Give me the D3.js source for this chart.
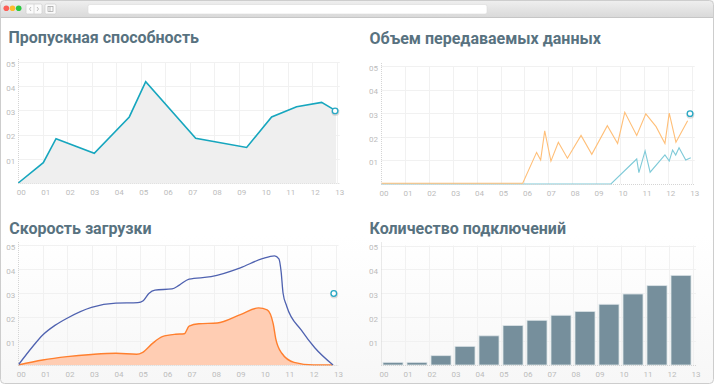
<!DOCTYPE html>
<html lang="ru">
<head>
<meta charset="UTF-8">
<title>Dashboard</title>
<style>
  html, body { margin: 0; padding: 0; background: #fff; }
  svg { display: block; font-family: Roboto, "Noto Sans", sans-serif; }
  .title { font-size: 16px; font-weight: 700; fill: #587280; }
  .tick-label { font-size: 8px; fill: #bcbcbc; }
</style>
</head>
<body>
<svg id="chart" width="714" height="385"></svg>
<script src="https://d3js.org/d3.v7.min.js"></script>
<script>
// ---- data ----
const hourLabels = ["00","01","02","03","04","05","06","07","08","09","10","11","12","13"];
const valueLabels = ["01","02","03","04","05"];

// Пропускная способность
const throughputX = [0, 1.02, 1.54, 3.1, 4.53, 5.2, 7.24, 9.32, 10.34, 11.36, 12.38, 12.97];
const throughputY = [0, 0.84, 1.83, 1.23, 2.73, 4.19, 1.85, 1.47, 2.73, 3.15, 3.33, 2.98];

// Объем передаваемых данных
const volumeOutX = [0, 5.93, 6.51, 6.68, 6.85, 7.11, 7.42, 7.8, 8.37, 8.82, 9.47, 9.9, 10.2, 10.7, 11.08, 11.51, 11.88, 12.06, 12.34, 12.83];
const volumeOutY = [0.03, 0.03, 1.34, 1.02, 2.25, 0.97, 1.77, 1.09, 2.06, 1.26, 2.47, 1.72, 3.04, 2.06, 2.97, 2.43, 1.72, 3.0, 1.77, 2.68];
const volumeInX = [0, 9.62, 10.7, 10.79, 11.05, 11.26, 11.88, 12.06, 12.2, 12.33, 12.47, 12.75, 12.96];
const volumeInY = [0, 0, 1.06, 0.48, 1.4, 0.5, 1.23, 0.97, 1.44, 1.23, 1.54, 1.02, 1.11];

// Скорость загрузки
const speedMaxX = [0, 0.6, 1.0, 1.5, 2.0, 3.0, 4.0, 4.9, 5.12, 5.35, 5.6, 6.3, 6.6, 7.0, 7.9, 9.1, 10.0, 10.5, 10.68, 10.77, 10.85, 11.0, 11.6, 12.15, 12.9];
const speedMaxY = [0, 0.78, 1.25, 1.65, 1.95, 2.4, 2.58, 2.6, 2.68, 2.98, 3.12, 3.17, 3.33, 3.58, 3.68, 4.05, 4.43, 4.55, 4.42, 3.9, 3.0, 2.45, 1.45, 0.72, 0];
const speedAvgX = [0, 1.0, 2.0, 3.0, 4.0, 4.85, 5.1, 5.5, 5.9, 6.45, 6.8, 7.0, 7.4, 8.15, 9.1, 9.85, 10.2, 10.45, 10.55, 10.8, 11.3, 12.1, 12.9];
const speedAvgY = [0, 0.21, 0.35, 0.44, 0.49, 0.45, 0.53, 0.9, 1.18, 1.28, 1.3, 1.62, 1.72, 1.75, 2.1, 2.38, 2.3, 1.7, 1.1, 0.49, 0.11, 0, 0];

// Количество подключений
const connections = [0.11, 0.11, 0.39, 0.78, 1.22, 1.65, 1.87, 2.08, 2.24, 2.54, 2.97, 3.32, 3.75];

// current marker (x, value)
const markerPoint = [12.93, 2.98];

const zip = (xs, ys) => xs.map((x, i) => [x, ys[i]]);

// ---- page ----
const svg = d3.select("#chart");
const defs = svg.append("defs");

const chromeGrad = defs.append("linearGradient").attr("id", "chromeGrad")
  .attr("x1", 0).attr("y1", 0).attr("x2", 0).attr("y2", 1);
chromeGrad.append("stop").attr("offset", "0%").attr("stop-color", "#efefef");
chromeGrad.append("stop").attr("offset", "100%").attr("stop-color", "#d9d9d9");

const lowerGrad = defs.append("linearGradient").attr("id", "lowerGrad")
  .attr("x1", 0).attr("y1", 0).attr("x2", 0).attr("y2", 1);
lowerGrad.append("stop").attr("offset", "0%").attr("stop-color", "#ffffff");
lowerGrad.append("stop").attr("offset", "100%").attr("stop-color", "#f7f7f7");

// lower row background
svg.append("rect").attr("x", 1).attr("y", 236).attr("width", 712).attr("height", 147)
  .attr("fill", "url(#lowerGrad)");

// window frame + toolbar
svg.append("rect").attr("x", 0.5).attr("y", 0.5).attr("width", 713).attr("height", 17)
  .attr("fill", "url(#chromeGrad)");
svg.append("line").attr("x1", 0).attr("x2", 714).attr("y1", 17.5).attr("y2", 17.5)
  .attr("stroke", "#c6c6c6");
svg.append("rect").attr("x", 0.5).attr("y", 0.5).attr("width", 713).attr("height", 383)
  .attr("rx", 4).attr("fill", "none").attr("stroke", "#cdcdcd");

const lights = [["#fc5f57", 6.3], ["#fdbb2e", 12.5], ["#2ac840", 18.7]];
svg.selectAll(".light").data(lights).enter().append("circle")
  .attr("cx", d => d[1]).attr("cy", 8.3).attr("r", 2.8).attr("fill", d => d[0]);

const btn = svg.append("g").attr("fill", "#fbfbfb").attr("stroke", "#cfcfcf").attr("stroke-width", 0.7);
btn.append("rect").attr("x", 26).attr("y", 4).attr("width", 16).attr("height", 10).attr("rx", 1.5);
btn.append("rect").attr("x", 45).attr("y", 4).attr("width", 11).attr("height", 10).attr("rx", 1.5);
btn.append("line").attr("x1", 34).attr("x2", 34).attr("y1", 4).attr("y2", 14);
const glyph = svg.append("g").attr("fill", "none").attr("stroke", "#a0a0a0").attr("stroke-width", 0.7);
glyph.append("path").attr("d", "M31,7 L29.5,9 L31,11");
glyph.append("path").attr("d", "M37,7 L38.5,9 L37,11");
glyph.append("rect").attr("x", 48).attr("y", 6.5).attr("width", 5).attr("height", 5);
glyph.append("line").attr("x1", 50).attr("x2", 50).attr("y1", 6.5).attr("y2", 11.5);
svg.append("rect").attr("x", 88).attr("y", 4.5).attr("width", 399).attr("height", 9.5).attr("rx", 2)
  .attr("fill", "#ffffff").attr("stroke", "#dadada").attr("stroke-width", 0.6);

// ---- panels ----
function panel(cfg) {
  const x = d3.scaleLinear().domain([0, 13]).range([cfg.left, cfg.right]);
  const y = d3.scaleLinear().domain([0, 5]).range([cfg.bottom, cfg.top]);
  const g = svg.append("g");
  const gridEnd = cfg.right + 3;

  svg.append("text").attr("class", "title").attr("x", cfg.titleX).attr("y", cfg.titleY).text(cfg.title);

  // grid
  g.selectAll(".hgrid").data(d3.range(1, 6)).enter().append("line")
    .attr("x1", cfg.left).attr("x2", gridEnd)
    .attr("y1", d => Math.round(y(d)) + 0.5).attr("y2", d => Math.round(y(d)) + 0.5)
    .attr("stroke", "#f1f1f1");
  g.selectAll(".vgrid").data(d3.range(1, 14)).enter().append("line")
    .attr("x1", d => Math.round(x(d)) + 0.5).attr("x2", d => Math.round(x(d)) + 0.5)
    .attr("y1", y(5)).attr("y2", cfg.bottom)
    .attr("stroke", "#f1f1f1");

  // tick labels
  g.selectAll(".xl").data(hourLabels).enter().append("text")
    .attr("class", "tick-label").attr("text-anchor", "middle")
    .attr("x", (d, i) => x(i) + 3).attr("y", cfg.bottom + 9).attr("dy", "0.35em").text(d => d);
  g.selectAll(".yl").data(valueLabels).enter().append("text")
    .attr("class", "tick-label").attr("text-anchor", "end")
    .attr("x", cfg.left - 3).attr("y", (d, i) => y(i + 1) + 2).attr("dy", "0.35em").text(d => d);

  const marks = svg.append("g");

  // dotted axes on top
  const ax = svg.append("g").attr("stroke", "#d4d4d4").attr("stroke-dasharray", "1,1");
  ax.append("line").attr("x1", Math.round(cfg.left) + 0.5).attr("x2", Math.round(cfg.left) + 0.5)
    .attr("y1", y(5) - 3).attr("y2", cfg.bottom);
  ax.append("line").attr("x1", cfg.left).attr("x2", gridEnd)
    .attr("y1", Math.round(cfg.bottom) + 0.5).attr("y2", Math.round(cfg.bottom) + 0.5);

  return { x, y, marks };
}

function marker(p) {
  const [cx, cy] = [p.x(markerPoint[0]), p.y(markerPoint[1])];
  p.marks.append("circle").attr("cx", cx + 0.3).attr("cy", cy + 1).attr("r", 4)
    .attr("fill", "#b5b5b5").attr("opacity", 0.45);
  p.marks.append("circle").attr("cx", cx).attr("cy", cy).attr("r", 2.8)
    .attr("fill", "#fff").attr("stroke", "#29a8c4").attr("stroke-width", 1.3);
}

// 1. Пропускная способность
const p1 = panel({ title: "Пропускная способность", titleX: 8.5, titleY: 42.5,
  left: 18.3, right: 336.8, top: 62, bottom: 183 });
const tp = zip(throughputX, throughputY);
p1.marks.append("path").datum(tp)
  .attr("d", d3.area().x(d => p1.x(d[0])).y0(p1.y(0)).y1(d => p1.y(d[1])))
  .attr("fill", "#efefef");
p1.marks.append("path").datum(tp)
  .attr("d", d3.line().x(d => p1.x(d[0])).y(d => p1.y(d[1])))
  .attr("fill", "none").attr("stroke", "#16a6be").attr("stroke-width", 1.6);
marker(p1);

// 2. Объем передаваемых данных
const p2 = panel({ title: "Объем передаваемых данных", titleX: 369.5, titleY: 43.5,
  left: 381, right: 691.7, top: 66, bottom: 184 });
const line2 = d3.line().x(d => p2.x(d[0])).y(d => p2.y(d[1]));
p2.marks.append("path").datum(zip(volumeInX, volumeInY)).attr("d", line2)
  .attr("fill", "none").attr("stroke", "#7fcad8").attr("stroke-width", 1.1);
p2.marks.append("path").datum(zip(volumeOutX, volumeOutY)).attr("d", line2)
  .attr("fill", "none").attr("stroke", "#ffbf78").attr("stroke-width", 1.1);
marker(p2);

// 3. Скорость загрузки
const p3 = panel({ title: "Скорость загрузки", titleX: 9.3, titleY: 234,
  left: 18.3, right: 335.5, top: 245, bottom: 365 });
const avg = zip(speedAvgX, speedAvgY);
p3.marks.append("path").datum(avg)
  .attr("d", d3.area().curve(d3.curveMonotoneX).x(d => p3.x(d[0])).y0(p3.y(0)).y1(d => p3.y(d[1])))
  .attr("fill", "#ffcdb3");
p3.marks.append("path").datum(avg)
  .attr("d", d3.line().curve(d3.curveMonotoneX).x(d => p3.x(d[0])).y(d => p3.y(d[1])))
  .attr("fill", "none").attr("stroke", "#ff7f2e").attr("stroke-width", 1.4);
p3.marks.append("path").datum(zip(speedMaxX, speedMaxY))
  .attr("d", d3.line().curve(d3.curveMonotoneX).x(d => p3.x(d[0])).y(d => p3.y(d[1])))
  .attr("fill", "none").attr("stroke", "#4f62b0").attr("stroke-width", 1.3);
marker(p3);

// 4. Количество подключений
const p4 = panel({ title: "Количество подключений", titleX: 369.5, titleY: 234,
  left: 381, right: 693, top: 245.5, bottom: 365 });
const band = d3.scaleBand().domain(d3.range(connections.length))
  .range([p4.x(0), p4.x(13)]).paddingInner(1 / 6).paddingOuter(1 / 12);
p4.marks.selectAll(".bar").data(connections).enter().append("rect")
  .attr("x", (d, i) => band(i)).attr("width", band.bandwidth())
  .attr("y", d => p4.y(d)).attr("height", d => p4.y(0) - p4.y(d))
  .attr("fill", "#768f9c").attr("stroke", "#dbe3e7").attr("stroke-width", 0.8);
</script>
</body>
</html>
